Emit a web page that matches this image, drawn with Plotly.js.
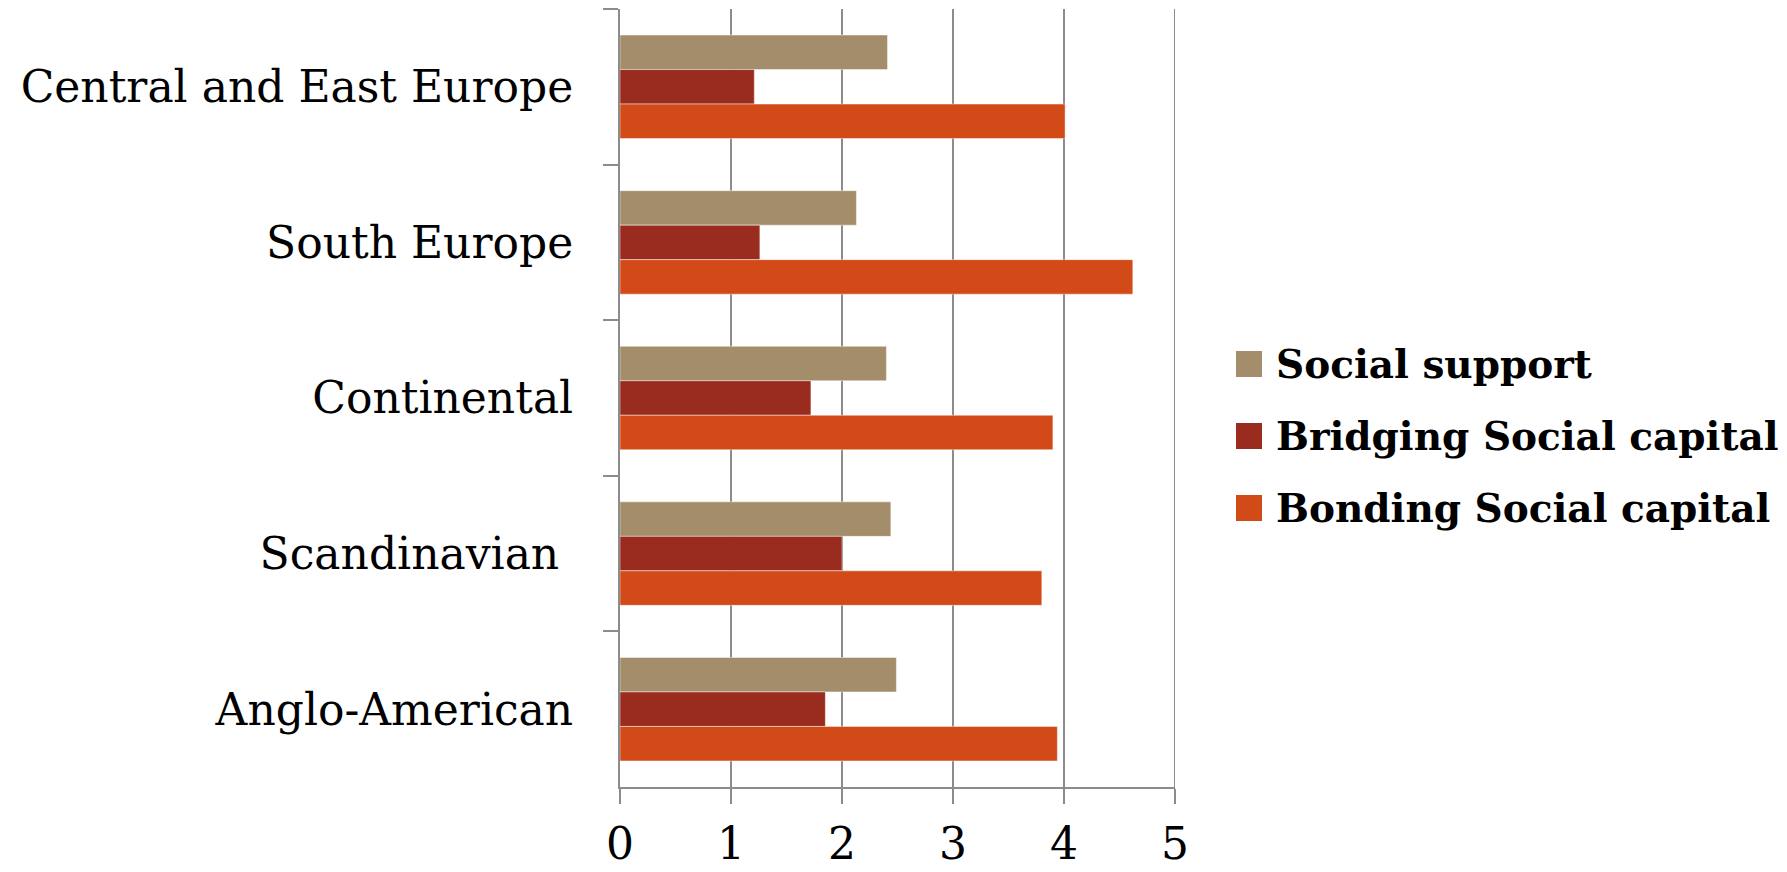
<!DOCTYPE html>
<html>
<head>
<meta charset="utf-8">
<script src="https://cdn.plot.ly/plotly-3.0.1.min.js"></script>
<style>
  html, body { margin: 0; padding: 0; background: #ffffff; }
  #chart { width: 1787px; height: 872px; }
</style>
</head>
<body>
<div id="chart"></div>
<script>
// Regions, listed top to bottom
const regions = ["Central and East Europe", "South Europe", "Continental", "Scandinavian\u00a0", "Anglo-American"];

// Series names and values per region (same order as regions)
const seriesNames = ["Social support", "Bridging Social capital", "Bonding Social capital"];
const socialSupport = [2.41, 2.13, 2.40, 2.44, 2.49];
const bridgingCapital = [1.21, 1.26, 1.72, 2.00, 1.85];
const bondingCapital = [4.01, 4.62, 3.90, 3.80, 3.94];

const xTicks = [0, 1, 2, 3, 4, 5];

const colors = ["#A48D6A", "#9A2B1F", "#D24A18"];
const seriesValues = [socialSupport, bridgingCapital, bondingCapital];

const FONT = "DejaVu Serif";
const GRID = "#8c8c8c";

// plot area in pixels
const W = 1787, H = 872;
const M = { l: 620, r: 612, t: 9, b: 85 };
const plotW = W - M.l - M.r, plotH = H - M.t - M.b;
const toPaperX = px => (px - M.l) / plotW;
const toPaperY = py => (H - M.b - py) / plotH;

const traces = seriesValues.map((vals, i) => ({
  type: "bar",
  orientation: "h",
  name: seriesNames[i],
  y: regions,
  x: vals,
  marker: { color: colors[i], line: { color: "rgba(255,255,255,0.45)", width: 1 } },
  showlegend: false,
  hoverinfo: "x+y"
}));

// legend drawn as coloured squares with bold labels at the right
const legendX = 1236, legendSize = 26, legendY0 = 364, legendStep = 72;
const shapes = seriesNames.map((n, i) => ({
  type: "rect", xref: "paper", yref: "paper",
  x0: toPaperX(legendX), x1: toPaperX(legendX + legendSize),
  y0: toPaperY(legendY0 + i * legendStep + legendSize / 2),
  y1: toPaperY(legendY0 + i * legendStep - legendSize / 2),
  fillcolor: colors[i], line: { width: 0 }
}));
// grid line at the far end of the value axis (the axis edge is not gridded by default)
const xMax = xTicks[xTicks.length - 1];
shapes.push({
  type: "line", xref: "x", yref: "paper",
  x0: xMax, x1: xMax, y0: 0, y1: 1,
  line: { color: GRID, width: 2 }, layer: "below"
});

const annotations = seriesNames.map((n, i) => ({
  xref: "paper", yref: "paper",
  x: toPaperX(legendX + legendSize + 12), y: toPaperY(legendY0 + i * legendStep),
  xanchor: "left", yanchor: "middle",
  text: "<b>" + n + "</b>", showarrow: false,
  font: { family: FONT, size: 39, color: "#000000" }
}));

const layout = {
  width: W, height: H,
  margin: M,
  paper_bgcolor: "#ffffff",
  plot_bgcolor: "#ffffff",
  barmode: "group",
  bargap: 0.335,
  bargroupgap: 0,
  showlegend: false,
  xaxis: {
    range: [0, xMax],
    tickvals: xTicks,
    ticktext: xTicks.map(String),
    showgrid: true, gridcolor: GRID, gridwidth: 2,
    zeroline: false,
    showline: true, linecolor: GRID, linewidth: 2,
    ticks: "outside", ticklen: 15, tickwidth: 2, tickcolor: GRID,
    ticklabelstandoff: 2,
    tickfont: { family: FONT, size: 44, color: "#000000" }
  },
  yaxis: {
    type: "category",
    autorange: "reversed",
    showgrid: false, zeroline: false,
    showline: true, linecolor: GRID, linewidth: 2,
    ticks: "outside", ticklen: 15, tickwidth: 2, tickcolor: GRID,
    tickson: "boundaries",
    ticklabelstandoff: 36,
    tickfont: { family: FONT, size: 44, color: "#000000" }
  },
  shapes: shapes,
  annotations: annotations,
  font: { family: FONT, color: "#000000" }
};

Plotly.newPlot("chart", traces, layout, { displayModeBar: false, staticPlot: true });
</script>
</body>
</html>
